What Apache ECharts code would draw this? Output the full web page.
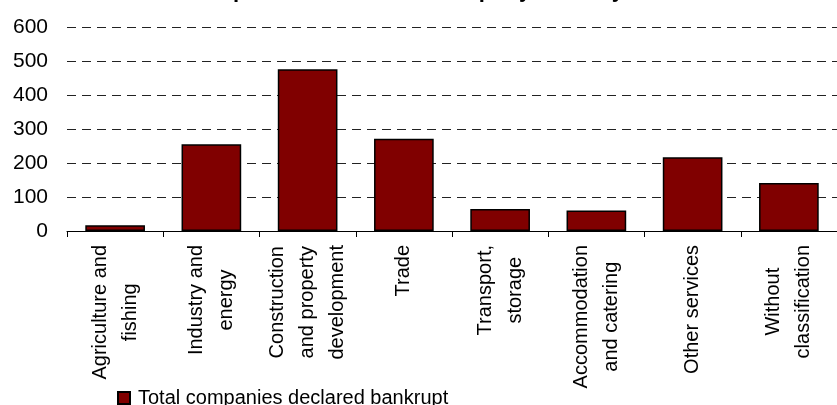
<!DOCTYPE html>
<html>
<head>
<meta charset="utf-8">
<script src="https://cdn.jsdelivr.net/npm/echarts@6/dist/echarts.min.js"></script>
<style>
html,body{margin:0;padding:0;background:#fff;}
#chart{width:837px;height:405px;}
</style>
</head>
<body>
<div id="chart"></div>
<script>
const titleText = 'Companies declared bankrupt by industry';
const categories = [
  'Agriculture and\nfishing',
  'Industry and\nenergy',
  'Construction\nand property\ndevelopment',
  'Trade',
  'Transport,\nstorage',
  'Accommodation\nand catering',
  'Other services',
  'Without\nclassification'
];
const seriesName = 'Total companies declared bankrupt';
const values = [17, 255, 476, 271, 65, 60, 217, 141];
const yTicks = [0, 100, 200, 300, 400, 500, 600];

const FONT = 'Arial, "Liberation Sans", sans-serif';
const chart = echarts.init(document.getElementById('chart'), null, {renderer: 'canvas'});
chart.setOption({
  animation: false,
  backgroundColor: '#ffffff',
  title: {
    text: titleText,
    left: 184,
    top: -20,
    padding: 0,
    textStyle: {fontFamily: FONT, fontSize: 22, fontWeight: 'bold', color: '#000'}
  },
  legend: {
    data: [seriesName],
    left: 117,
    top: 388,
    padding: 0,
    itemWidth: 12,
    itemHeight: 12,
    itemGap: 0,
    icon: 'rect',
    textStyle: {fontFamily: FONT, fontSize: 20, color: '#000', padding: [0, 0, 0, 3]}
  },
  grid: {left: 67, top: 27, right: -4, bottom: 174, containLabel: false},
  xAxis: {
    type: 'category',
    data: categories,
    axisLine: {show: true, lineStyle: {color: '#000', width: 1}},
    axisTick: {show: true, length: 6, lineStyle: {color: '#000'}},
    axisLabel: {
      rotate: 90,
      interval: 0,
      margin: 14,
      color: '#000',
      fontFamily: FONT,
      fontSize: 20,
      formatter: function (v) {
        return v.split('\n').map(function (l) { return '{c|' + l + '}'; }).join('\n');
      },
      rich: {c: {align: 'center', fontSize: 20, lineHeight: 30, fontFamily: FONT, color: '#000'}}
    }
  },
  yAxis: {
    type: 'value',
    min: yTicks[0],
    max: yTicks[yTicks.length - 1],
    interval: 100,
    axisLine: {show: false},
    axisTick: {show: false},
    axisLabel: {margin: 19, color: '#000', fontFamily: FONT, fontSize: 21},
    splitLine: {show: true, lineStyle: {color: '#222', width: 1, type: [9, 6]}}
  },
  series: [{
    name: seriesName,
    type: 'bar',
    data: values,
    barCategoryGap: '38%',
    itemStyle: {color: '#800000', borderColor: '#000', borderWidth: 1.5}
  }]
});
</script>
</body>
</html>
